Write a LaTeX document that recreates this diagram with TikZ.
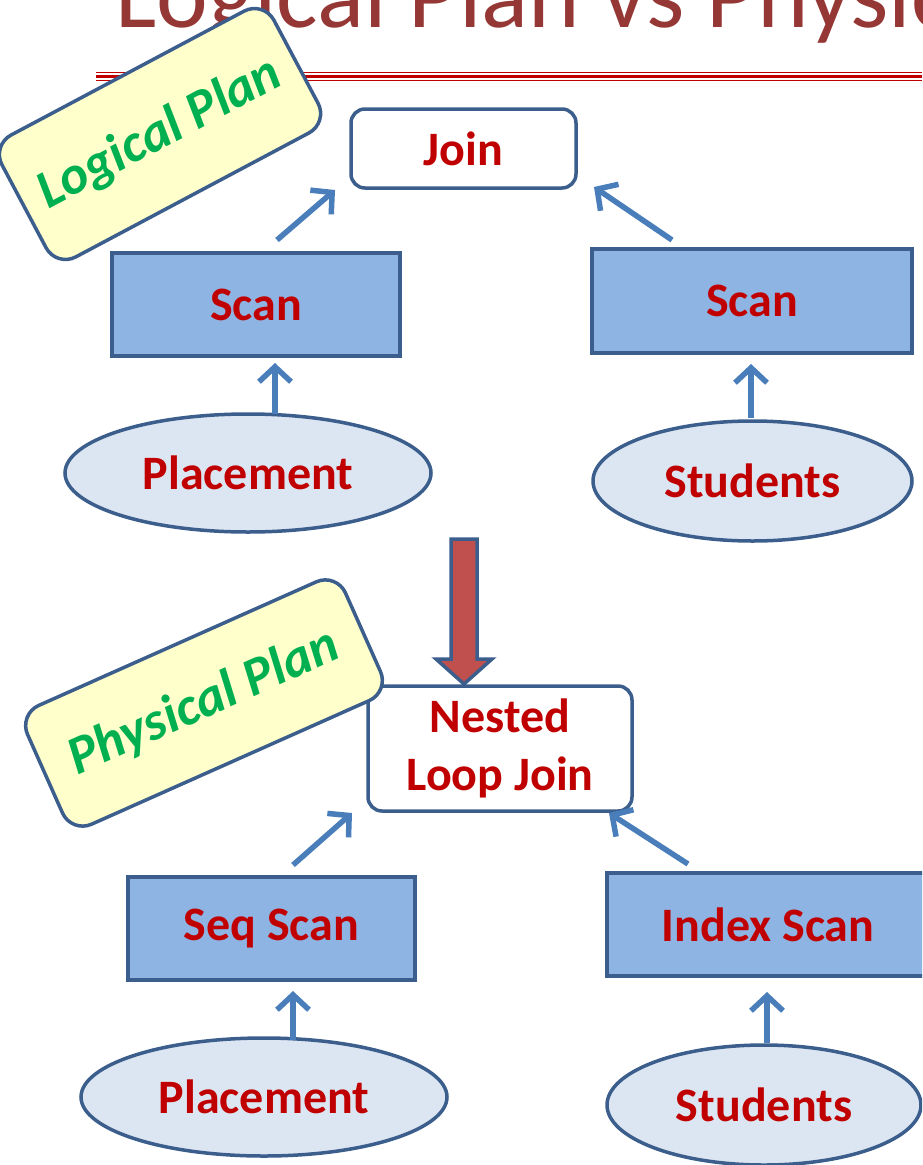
\documentclass[tikz,border=0pt]{standalone}
\usepackage{fontspec}
\setmainfont{Carlito}
\usetikzlibrary{shapes.geometric,arrows.meta}
\definecolor{bordc}{HTML}{3B5E8C}
\definecolor{arrc}{HTML}{4A7EBB}
\definecolor{rectf}{HTML}{8EB4E3}
\definecolor{ellf}{HTML}{DCE6F2}
\definecolor{lblf}{HTML}{FFFFCC}
\definecolor{greent}{HTML}{00B050}
\definecolor{redt}{HTML}{C00000}
\definecolor{titc}{HTML}{953735}
\definecolor{bigf}{HTML}{C0504D}
\begin{document}
\begin{tikzpicture}[x=1pt,y=-1pt,
  txt/.style={font=\fontsize{48pt}{58pt}\selectfont\bfseries, text=redt},
  opbox/.style={txt, draw=bordc, line width=3.5pt, fill=rectf, rectangle, inner sep=0pt},
  rbox/.style={txt, draw=bordc, line width=3.5pt, fill=white, rectangle, rounded corners=14pt, inner sep=0pt, align=center},
  rel/.style={txt, draw=bordc, line width=3.5pt, fill=ellf, ellipse, inner sep=0pt},
  planlbl/.style={draw=bordc, line width=3.5pt, fill=lblf, rectangle, rounded corners=22pt, text=greent, font=\fontsize{54pt}{60pt}\selectfont\bfseries\itshape, inner sep=0pt},
  conn/.style={draw=arrc, line width=5.5pt, -{Straight Barb[length=15pt,width=32pt]}},
  redline/.style={draw=redt}
]
\useasboundingbox (0,0) rectangle (922,1165);
\clip (0,0) rectangle (922,1165);

% title (cut off at top)
\node[anchor=base west, text=titc, font=\fontsize{98pt}{100pt}\selectfont, inner sep=0pt] (title) at (115,27) {Logical Plan vs Physical Plan};
\draw[redline, line width=1.5pt] (96,72.5) -- (922,72.5);
\draw[redline, line width=3pt] (96,76.5) -- (922,76.5);
\draw[redline, line width=1.5pt] (96,80.5) -- (922,80.5);

% logical plan
\node[rbox, minimum width=225pt, minimum height=79pt] (join) at (463.5,148.5) {Join};
\node[opbox, minimum width=288pt, minimum height=103pt] (scanL) at (256,304.5) {Scan};
\node[opbox, minimum width=320pt, minimum height=104pt] (scanR) at (752,301) {Scan};
\node[rel, minimum width=366pt, minimum height=118pt] (plT) at (248,473) {Placement};
\node[rel, minimum width=319pt, minimum height=120pt] (stT) at (752.5,481) {Students};

\coordinate (a1s) at (277,240); \coordinate (a1e) at (335,190);
\coordinate (a2s) at (672,240); \coordinate (a2e) at (594,187);
\coordinate (a3s) at (275,414); \coordinate (a3e) at (275,363);
\coordinate (a4s) at (751,418); \coordinate (a4e) at (751,364);
\draw[conn] (a1s) -- (a1e);
\draw[conn] (a2s) -- (a2e);
\draw[conn] (a3s) -- (a3e);
\draw[conn] (a4s) -- (a4e);

\node[planlbl, rotate=28, minimum width=308pt, minimum height=138pt] (logl) at (160,134) {Logical Plan};

% physical plan
\node[rbox, minimum width=264pt, minimum height=125pt] (nlj) at (500,748.5) {Nested\\Loop Join};
\node[opbox, minimum width=287pt, minimum height=103pt] (seqs) at (271.5,928.5) {Seq Scan};
\node[opbox, minimum width=322pt, minimum height=103pt] (idxs) at (768,924.5) {Index Scan};
\node[rel, minimum width=366pt, minimum height=118pt] (plB) at (264,1097) {Placement};
\node[rel, minimum width=314pt, minimum height=120pt] (stB) at (764,1105) {Students};

\coordinate (b1s) at (293,865); \coordinate (b1e) at (352,813);
\coordinate (b2s) at (688,864); \coordinate (b2e) at (609,813);
\coordinate (b3s) at (293,1040); \coordinate (b3e) at (293,991);
\coordinate (b4s) at (767,1043); \coordinate (b4e) at (767,992);
\draw[conn] (b1s) -- (b1e);
\draw[conn] (b2s) -- (b2e);
\draw[conn] (b3s) -- (b3e);
\draw[conn] (b4s) -- (b4e);

\node[planlbl, rotate=24, minimum width=348pt, minimum height=130pt] (phyl) at (204,703) {Physical Plan};

% big transform arrow
\draw[draw=bordc, fill=bigf, line width=3.5pt, line join=miter]
  (451,539) -- (477,539) -- (477,659) -- (492,659) -- (464,684) -- (436,659) -- (451,659) -- cycle;
\end{tikzpicture}
\end{document}
